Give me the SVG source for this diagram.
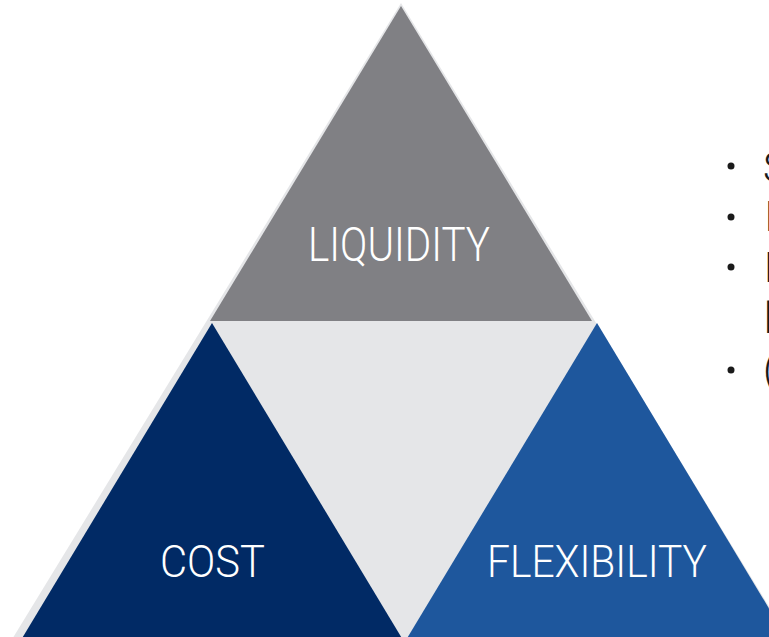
<svg xmlns="http://www.w3.org/2000/svg" width="769" height="637" viewBox="0 0 769 637">
  <style>
    .lbl { font-family: Roboto, "Liberation Sans", sans-serif; font-weight: 300; fill: #ffffff; }
    .bul { font-family: Roboto, "Liberation Sans", sans-serif; font-weight: 300; font-size: 42px; fill: #1a1a1a; }
  </style>
  <rect width="769" height="637" fill="#ffffff"/>
  <g id="background">
    <polygon points="401,3 11,641 790,641" fill="#e5e6e8"/>
  </g>
  <g id="liquidity">
    <polygon points="401,6 210,321 592,321" fill="#808084"/>
    <text class="lbl" x="308" y="261" font-size="48" textLength="182" lengthAdjust="spacingAndGlyphs">LIQUIDITY</text>
  </g>
  <g id="cost">
    <polygon points="212,323 21,640 403,640" fill="#012a65"/>
    <text class="lbl" x="160" y="577" font-size="45" textLength="105" lengthAdjust="spacingAndGlyphs">COST</text>
  </g>
  <g id="flexibility">
    <polygon points="597,323 406,640 788,640" fill="#1e579d"/>
    <text class="lbl" x="487" y="577" font-size="45" textLength="220" lengthAdjust="spacingAndGlyphs">FLEXIBILITY</text>
  </g>
  <g id="connectors"></g>
  <g id="bullets">
    <circle cx="731" cy="166" r="3.5" fill="#1a1a1a"/>
    <circle cx="731" cy="217" r="3.5" fill="#1a1a1a"/>
    <circle cx="731" cy="267" r="3.5" fill="#1a1a1a"/>
    <circle cx="731" cy="370" r="3.5" fill="#1a1a1a"/>
    <text class="bul" x="763" y="182">S</text>
    <text class="bul" x="764" y="231">I</text>
    <text class="bul" x="764" y="282">E</text>
    <text class="bul" x="764" y="333">b</text>
    <text class="bul" x="763" y="384">(</text>
  </g>
</svg>
